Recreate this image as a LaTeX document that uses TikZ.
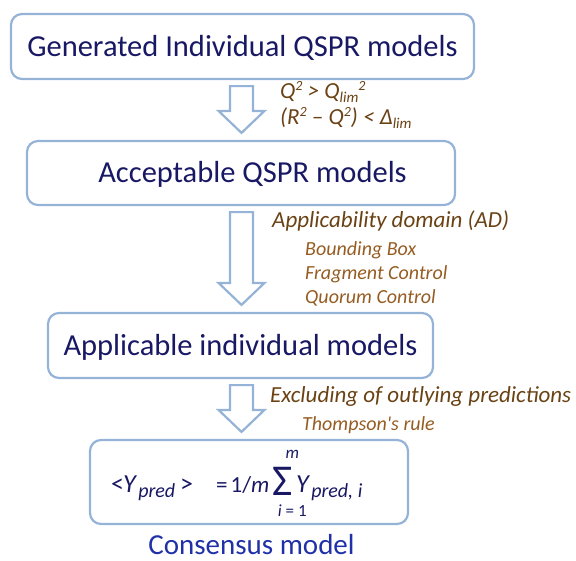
\documentclass[tikz,border=0pt]{standalone}
\usepackage{fontspec}
\setmainfont{Carlito}
\usetikzlibrary{positioning,calc}

\definecolor{boxline}{RGB}{149,179,215}
\definecolor{boxtext}{RGB}{24,24,100}
\definecolor{consblue}{RGB}{32,48,168}
\definecolor{critbrown}{RGB}{106,66,20}
\definecolor{subbrown}{RGB}{150,92,34}

% raised and lowered indices
\newcommand\hi[2][14]{\raisebox{0.34em}{\fontsize{#1}{#1}\selectfont #2}}
\newcommand\lo[2][15]{\raisebox{-0.2em}{\fontsize{#1}{#1}\selectfont #2}}

\tikzset{
  stage/.style={draw=boxline, line width=2.2pt, rounded corners=11pt,
    text=boxtext, font=\fontsize{30.5}{36}\selectfont,
    inner sep=0pt, text height=19.5pt, text depth=0pt},
  crit/.style={anchor=base west, inner sep=0pt, text=critbrown,
    font=\fontsize{23}{28}\selectfont\itshape},
  subcrit/.style={crit, text=subbrown, font=\fontsize{20}{24}\selectfont\itshape},
  flow/.style={draw=boxline, line width=2.2pt, fill=white},
  formula/.style={anchor=base west, inner sep=0pt, text=boxtext,
    font=\fontsize{26}{30}\selectfont},
  limit/.style={inner sep=0pt, text=boxtext, font=\fontsize{17}{20}\selectfont},
}

% hollow down arrow from one stage to the next
\newcommand\flowarrow[2]{%
  \draw[flow] let \p1=(axis |- #1.south), \p2=(axis |- #2.north) in
    (\x1-11.5pt,\y1-6pt) -- (\x1+11.5pt,\y1-6pt) -- (\x1+11.5pt,\y2+29pt)
    -- (\x1+23pt,\y2+29pt) -- (\x1,\y2+7pt) -- (\x1-23pt,\y2+29pt)
    -- (\x1-11.5pt,\y2+29pt) -- cycle;}

\begin{document}
\begin{tikzpicture}[x=1pt,y=-1pt]
  \useasboundingbox (0,0) rectangle (576,560);
  \coordinate (axis) at (241.5,0);

  % stages
  \node[stage, minimum width=463pt, minimum height=65pt] (gen) at (242.5,46.5)
    {Generated Individual QSPR models};
  \node[stage, minimum width=428pt, minimum height=64pt] (acc) at (241,173)
    {\hspace*{23pt}Acceptable QSPR models};
  \node[stage, minimum width=385pt, minimum height=65pt] (app) at (240.5,345.5)
    {Applicable individual models};
  \node[stage, minimum width=318pt, minimum height=84pt] (cons) at (249,482) {};

  \flowarrow{gen}{acc}
  \flowarrow{acc}{app}
  \flowarrow{app}{cons}

  % selection criteria
  \node[crit] (q1) at (280,98) {Q\hi{2} > Q\lo{lim}\hi{2}};
  \node[crit] (q2) at (280,124) {(R\hi{2} – Q\hi{2}) < Δ\lo{lim}};
  \node[crit] (ad) at (272,227) {Applicability domain (AD)};
  \foreach \name [count=\i] in {Bounding Box, Fragment Control, Quorum Control}
    \node[subcrit] (ad\i) at (305,{231+24*\i}) {\name};
  \node[crit] (ex) at (270,402) {Excluding of outlying predictions};
  \node[subcrit] (th) at (302,430) {Thompson\textquotesingle s rule};

  % consensus formula
  \node[formula] (lt) at (111,492) {<};
  \node[formula] (ypred) at (123,492) {\textit{Y}\hspace{1pt}\lo[20]{\textit{pred}}};
  \node[formula] (gt) at (180,492) {>};
  \node[formula, font=\fontsize{23}{28}\selectfont] (eq) at (216,492)
    {=\hspace{3pt}1/\textit{m}};
  \node[formula, font=\fontsize{44}{44}\selectfont] (sum) at (272,495) {Σ};
  \node[formula] (yi) at (296,492) {\textit{Y}\hspace{1pt}\lo[20]{\textit{pred, i}}};
  \node[limit, above=8pt of sum, xshift=10pt] (upper) {\textit{m}};
  \node[limit, below=9pt of sum, xshift=10pt] (lower) {\textit{i} = 1};

  \node[anchor=base, inner sep=0pt, text=consblue,
    font=\fontsize{29}{34}\selectfont] (title) at (251.5,554) {Consensus model};
\end{tikzpicture}
\end{document}
